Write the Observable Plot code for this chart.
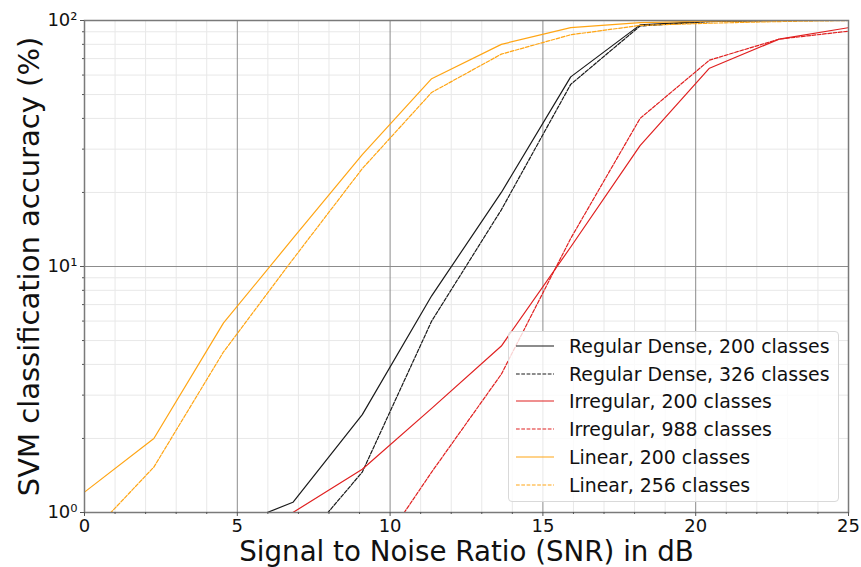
<!DOCTYPE html>
<html>
<head>
<meta charset="utf-8">
<script src="https://cdn.jsdelivr.net/npm/d3@7"></script>
<script src="https://cdn.jsdelivr.net/npm/@observablehq/plot@0.6"></script>
<style>
  html, body { margin: 0; padding: 0; background: #fff; }
  #chart { position: relative; width: 861px; height: 567px; font-family: "DejaVu Sans", sans-serif; }
  .legend {
    position: absolute; left: 508px; top: 331px; width: 331px; height: 171px;
    background: rgba(255,255,255,0.8); border: 1px solid #d9d9d9; border-radius: 4px;
    box-sizing: border-box; padding-top: 0px;
  }
  .legend .row { display: flex; align-items: center; height: 27.8px; }
  .legend svg { margin-left: 7px; margin-right: 15px; }
  .legend span { font-size: 18.9px; color: #111; white-space: nowrap; }
</style>
</head>
<body>
<div id="chart"></div>
<script>
// SNR sample points (dB)
const snr = [0, 2.27, 4.55, 6.82, 9.09, 11.36, 13.64, 15.91, 18.18, 20.45, 22.73, 25];

// SVM classification accuracy (%) per constellation; null = not measured / off scale
const regularDense200 = [null, null, 0.85, 1.1, 2.5, 7.6, 20, 59, 96, 99.5, 100, 100];
const regularDense326 = [null, null, null, 0.68, 1.46, 6.0, 17, 55, 95, 99, 100, 100];
const irregular200    = [null, null, null, 1.0, 1.5, 2.65, 4.75, 12, 31, 64, 84, 93.5];
const irregular988    = [null, null, null, null, 0.56, 1.46, 3.65, 13, 40, 69, 84, 90.5];
const linear200       = [1.21, 2.0, 5.9, 13, 28.5, 58, 80, 93.5, 98, 99.5, 100, 100];
const linear256       = [0.77, 1.53, 4.5, 10.7, 25, 51, 73, 87.5, 95.5, 97.5, 99, 100];

const seriesNames = [
  "Regular Dense, 200 classes",
  "Regular Dense, 326 classes",
  "Irregular, 200 classes",
  "Irregular, 988 classes",
  "Linear, 200 classes",
  "Linear, 256 classes"
];
const seriesValues = [regularDense200, regularDense326, irregular200, irregular988, linear200, linear256];
const seriesColors = ["#1a1a1a", "#1a1a1a", "#e02020", "#e02020", "#ffa514", "#ffa514"];
const seriesDashed = [false, true, false, true, false, true];

const xLabel = "Signal to Noise Ratio (SNR) in dB";
const yLabel = "SVM classification accuracy (%)";

// tick positions
const xMajor = [0, 5, 10, 15, 20, 25];
const xMinor = d3.range(0, 26).filter(v => v % 5 !== 0);
const yMajor = [1, 10, 100];
const yMinor = [2, 3, 4, 5, 6, 7, 8, 9, 20, 30, 40, 50, 60, 70, 80, 90];
const sup = {0: "\u2070", 1: "\u00b9", 2: "\u00b2"};
const yTickFormat = v => "10" + sup[Math.round(Math.log10(v))];

const dash = "3.7,1.6";

const lineMarks = seriesValues.map((vals, i) => {
  const rows = snr.map((x, j) => ({x, y: vals[j]})).filter(d => d.y != null);
  return Plot.line(rows, {
    x: "x", y: "y",
    stroke: seriesColors[i],
    strokeWidth: 1.2,
    strokeDasharray: seriesDashed[i] ? dash : null,
    clip: true
  });
});

const chart = Plot.plot({
  width: 861,
  height: 567,
  marginLeft: 84,
  marginRight: 13,
  marginTop: 20,
  marginBottom: 55,
  style: {fontFamily: "DejaVu Sans, sans-serif", fontSize: "18px", color: "#111", background: "#fff"},
  x: {domain: [0, 25]},
  y: {type: "log", domain: [1, 100]},
  marks: [
    Plot.ruleX(xMinor, {stroke: "#e8e8e8", strokeWidth: 1}),
    Plot.ruleY(yMinor, {stroke: "#e8e8e8", strokeWidth: 1}),
    Plot.ruleX(xMajor, {stroke: "#8c8c8c", strokeWidth: 1}),
    Plot.ruleY(yMajor, {stroke: "#8c8c8c", strokeWidth: 1}),
    ...lineMarks,
    Plot.frame({stroke: "#7a7a7a", strokeWidth: 1.5}),
    Plot.axisX(xMajor, {tickSize: 4, tickPadding: 3, label: null, stroke: "#555", fontSize: 18}),
    Plot.axisX(xMinor, {tickSize: 2, text: null, label: null, stroke: "#555"}),
    Plot.axisY(yMajor, {tickSize: 4, tickPadding: 3, label: null, stroke: "#555", fontSize: 18, tickFormat: yTickFormat}),
    Plot.axisY(yMinor, {tickSize: 2, text: null, label: null, stroke: "#555"}),
    Plot.text([xLabel], {frameAnchor: "bottom", text: d => d, dy: 40, lineAnchor: "middle", textAnchor: "middle", fontSize: 27.7, fill: "#111"}),
    Plot.text([yLabel], {frameAnchor: "left", text: d => d, rotate: -90, dx: -55, lineAnchor: "middle", textAnchor: "middle", fontSize: 29, fill: "#111"})
  ]
});

const root = document.getElementById("chart");
root.appendChild(chart);

// legend drawn inside the plot area, lower right
const legend = document.createElement("div");
legend.className = "legend";
seriesNames.forEach((name, i) => {
  const row = document.createElement("div");
  row.className = "row";
  row.innerHTML =
    `<svg width="38" height="4"><line x1="0" x2="38" y1="2" y2="2" stroke="${seriesColors[i]}" stroke-width="1.2"` +
    (seriesDashed[i] ? ` stroke-dasharray="${dash}"` : "") + `/></svg><span>${name}</span>`;
  legend.appendChild(row);
});
root.appendChild(legend);
</script>
</body>
</html>
